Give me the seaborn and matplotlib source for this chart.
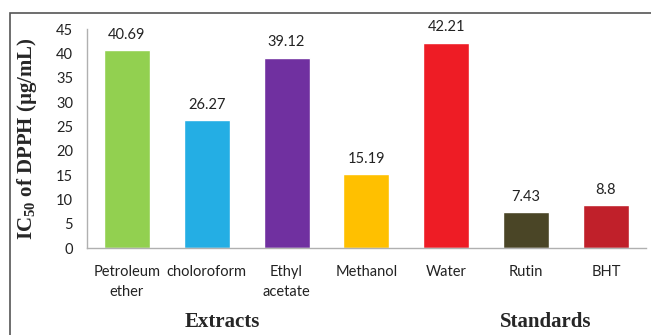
import matplotlib
matplotlib.use("Agg")
import matplotlib.pyplot as plt
import seaborn as sns
import pandas as pd
from matplotlib.patches import Rectangle

categories = ["Petroleum\nether", "choloroform", "Ethyl\nacetate", "Methanol", "Water", "Rutin", "BHT"]
ic50 = [40.69, 26.27, 39.12, 15.19, 42.21, 7.43, 8.8]
value_labels = ["40.69", "26.27", "39.12", "15.19", "42.21", "7.43", "8.8"]
colors = ["#92D050", "#24AEE4", "#7030A0", "#FFC000", "#EE1C25", "#4A4526", "#C0202A"]
y_ticks = [0, 5, 10, 15, 20, 25, 30, 35, 40, 45]

sns.set_theme(style="white")
plt.rcParams["font.family"] = ["Lato", "DejaVu Sans"]
plt.rcParams["mathtext.fontset"] = "custom"
plt.rcParams["mathtext.rm"] = "Liberation Serif:bold"
plt.rcParams["mathtext.it"] = "Liberation Serif:bold"
plt.rcParams["mathtext.bf"] = "Liberation Serif:bold"

df = pd.DataFrame({"group": categories, "value": ic50})

fig = plt.figure(figsize=(6.51, 3.35), dpi=100)
ax = fig.add_axes([0.1336, 0.2597, 0.8584, 0.6537])

sns.barplot(data=df, x="group", y="value", hue="group", palette=colors,
            width=0.575, legend=False, ax=ax, saturation=1)

ax.set_ylim(0, 45)
ax.set_yticks(y_ticks)
ax.set_xlim(-0.5, len(categories) - 0.5)
ax.tick_params(axis="both", length=0, labelsize=10.5, colors="#222222")
ax.tick_params(axis="x", pad=12)
ax.tick_params(axis="y", pad=10)
for lbl in ax.get_xticklabels():
    lbl.set_linespacing(1.55)

for s in ["top", "right"]:
    ax.spines[s].set_visible(False)
for s in ["left", "bottom"]:
    ax.spines[s].set_color("#b0b0b0")
    ax.spines[s].set_linewidth(1.0)

for patch, txt in zip(ax.patches, value_labels):
    h = patch.get_height()
    ax.annotate(txt, (patch.get_x() + patch.get_width() / 2, h),
                xytext=(0, 6), textcoords="offset points",
                ha="center", va="bottom", fontsize=10.5, color="#222222")

ax.set_xlabel("")
ax.set_ylabel(r"IC$\mathrm{_{50}}$ of DPPH (µg/mL)", fontsize=15, fontweight="bold",
              family="Liberation Serif", labelpad=12)

fig.text(222 / 651, 1 - 322 / 335, "Extracts", ha="center", va="center",
         fontsize=15, fontweight="bold", family="Liberation Serif")
fig.text(546 / 651, 1 - 322 / 335, "Standards", ha="center", va="center",
         fontsize=15, fontweight="bold", family="Liberation Serif")

# outer frame of the figure panel
fig.patches.append(Rectangle((10 / 651, -0.05), 1.1, 1 - 13 / 335 + 0.05,
                             transform=fig.transFigure, fill=False,
                             edgecolor="#555555", linewidth=1.2))

fig.savefig("out.png", dpi=100)
